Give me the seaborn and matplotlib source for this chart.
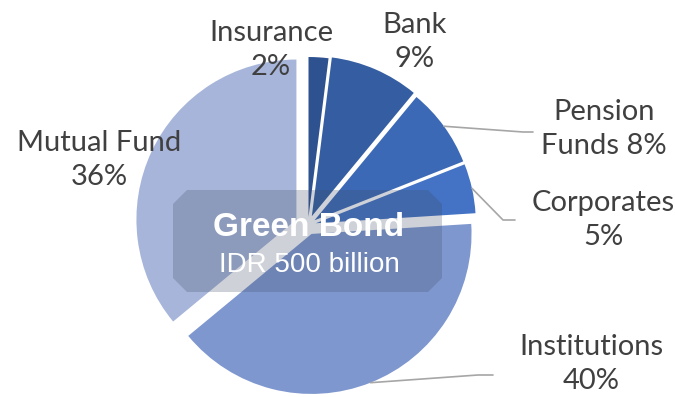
"""Green bond investor breakdown: exploded pie with centre caption."""
import numpy as np
import matplotlib
matplotlib.use("Agg")
import matplotlib.pyplot as plt
from matplotlib.patches import Polygon
import seaborn as sns

# investor groups, clockwise from 12 o'clock
labels = ["Insurance", "Bank", "Pension\nFunds", "Corporates", "Institutions", "Mutual Fund"]
shares = [2, 9, 8, 5, 40, 36]
colors = ["#2E5190", "#355EA2", "#3C69B5", "#4472C4", "#7F97CF", "#A7B5DA"]
explode = [0.05, 0.06, 0.05, 0.05, 0.06, 0.08]   # fraction of radius

# label text: same line or new line before the percentage
label_text = ["Insurance\n2%", "Bank\n9%", "Pension\nFunds 8%", "Corporates\n5%",
              "Institutions\n40%", "Mutual Fund\n36%"]
# label anchors (pixel space, y up) and leader elbows (None = no leader)
label_pos = [(271, 347), (415, 355), (604, 268), (603, 177), (591, 33), (99, 237)]
leader_elbow = [None, None, (523, 265), (503, 177), (478, 22), None]
leader_end = [None, None, (533, 265), (515, 177), (493, 22), None]

title = "Green Bond"
subtitle = "IDR 500 billion"

sns.set_style("white")
plt.rcParams["font.family"] = ["Lato", "DejaVu Sans"]

W, H = 675, 397
fig = plt.figure(figsize=(W / 100, H / 100), dpi=100)
ax = fig.add_axes([0, 0, 1, 1])

cx, cy, R = 308, 172, 160
# matplotlib's explode is an absolute offset, so scale it by the radius
wedges, _ = ax.pie(shares, colors=colors, explode=[e * R for e in explode],
                   startangle=90, counterclock=False, center=(cx, cy), radius=R,
                   wedgeprops=dict(linewidth=0), frame=True)
ax.set_xlim(0, W)
ax.set_ylim(0, H)
ax.set_aspect("equal")
ax.axis("off")

for w, txt, pos, elb, end in zip(wedges, label_text, label_pos, leader_elbow, leader_end):
    ax.text(pos[0], pos[1], txt, ha="center", va="center", fontsize=21,
            color="#404040", linespacing=1.4)
    if elb is None:
        continue
    mid = np.deg2rad((w.theta1 + w.theta2) / 2)
    x0 = w.center[0] + w.r * np.cos(mid)
    y0 = w.center[1] + w.r * np.sin(mid)
    ax.plot([x0, elb[0], end[0]], [y0, elb[1], end[1]], color="#A6A6A6", lw=1.2)

# centre caption box with chamfered corners
x1, x2, y1, y2, c = 173, 442, 105, 207, 14
box = Polygon([(x1 + c, y1), (x2 - c, y1), (x2, y1 + c), (x2, y2 - c),
               (x2 - c, y2), (x1 + c, y2), (x1, y2 - c), (x1, y1 + c)],
              closed=True, facecolor="#3E4C66", alpha=0.25, edgecolor="none")
ax.add_patch(box)
ax.text(309, 169, title, ha="center", va="center", fontsize=24, fontweight="bold",
        color="white", family=["Liberation Sans", "DejaVu Sans"])
ax.text(309, 132, subtitle, ha="center", va="center", fontsize=20,
        color="white", family=["Liberation Sans", "DejaVu Sans"])

fig.savefig("out.png", dpi=100, facecolor="white")
